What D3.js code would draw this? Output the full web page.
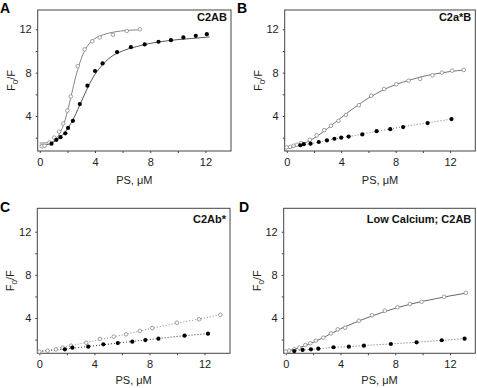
<!DOCTYPE html>
<html>
<head>
<meta charset="utf-8">
<script src="https://cdn.jsdelivr.net/npm/d3@7"></script>
<style>
body { margin: 0; background: #fff; }
text { font-family: "Liberation Sans", Arial, sans-serif; }
</style>
</head>
<body>
<svg id="chart" width="477" height="388"></svg>
<script>
"use strict"

// tick values
var xTicks = [0, 2, 4, 6, 8, 10, 12];
var yTicks = [2, 4, 6, 8, 10, 12];

// panel A : C2AB
var aOpenX = [0.15, 0.35, 0.7, 1.05, 1.4, 1.7, 2.0, 2.25, 2.75, 3.25, 3.8, 4.35, 5.3, 6.3, 7.25];
var aOpenY = [1.2, 1.25, 1.55, 2.0, 2.55, 3.3, 4.5, 5.8, 8.6, 10.15, 10.9, 11.25, 11.5, 11.85, 12.0];
var aFillX = [0.85, 1.2, 1.5, 1.85, 2.05, 2.4, 2.9, 3.45, 4.0, 4.55, 5.6, 6.6, 7.6, 8.6, 9.5, 10.4, 11.3, 12.1];
var aFillY = [1.45, 1.8, 2.05, 2.4, 2.9, 3.55, 5.1, 6.8, 8.15, 8.85, 9.9, 10.35, 10.6, 10.85, 11.0, 11.25, 11.4, 11.55];
var aOpenFitX = [0, 0.7, 1.1, 1.4, 1.7, 2.0, 2.3, 2.6, 2.9, 3.2, 3.6, 4.0, 4.6, 5.4, 6.3, 7.25];
var aOpenFitY = [1.5, 1.55, 1.8, 2.3, 3.1, 4.4, 6.0, 7.6, 8.9, 9.9, 10.7, 11.15, 11.5, 11.75, 11.9, 11.95];
var aFillFitX = [0, 0.5, 1.0, 1.5, 2.0, 2.5, 3.0, 3.5, 4.0, 4.5, 5.0, 6.0, 7.0, 8.0, 9.0, 10.0, 11.0, 12.3];
var aFillFitY = [1.3, 1.35, 1.6, 2.05, 2.8, 3.9, 5.3, 6.7, 7.85, 8.65, 9.3, 10.0, 10.4, 10.7, 10.9, 11.05, 11.15, 11.3];

// panel B : C2a*B
var bOpenX = [0, 0.25, 0.5, 0.75, 1.05, 1.7, 2.2, 2.75, 3.25, 3.8, 4.35, 5.3, 6.2, 7.15, 8.05, 8.95, 9.8, 10.7, 11.4, 12.15, 13.0];
var bOpenY = [1.1, 1.15, 1.25, 1.35, 1.5, 1.8, 2.2, 2.7, 3.1, 3.55, 4.1, 5.0, 5.87, 6.5, 6.92, 7.26, 7.42, 7.76, 8.0, 8.18, 8.25];
var bFillX = [1.0, 1.25, 1.75, 2.35, 2.95, 3.5, 4.0, 4.55, 5.55, 6.6, 7.6, 8.55, 10.35, 12.1];
var bFillY = [1.3, 1.4, 1.45, 1.6, 1.75, 1.9, 2.0, 2.1, 2.3, 2.6, 2.78, 2.98, 3.35, 3.72];
var bOpenFitX = [0, 1, 2, 3, 4, 5, 6, 7, 8, 9, 10, 11, 12, 13.1];
var bOpenFitY = [1.05, 1.35, 1.95, 2.85, 3.85, 4.8, 5.65, 6.35, 6.9, 7.3, 7.65, 7.9, 8.1, 8.25];
var bFillFitX = [0, 1.0, 2.0, 3.0, 4.0, 5.0, 6.0, 7.0, 8.0, 9.0, 10.0, 11.0, 12.1];
var bFillFitY = [1.1, 1.3, 1.5, 1.75, 2.0, 2.2, 2.45, 2.68, 2.9, 3.1, 3.3, 3.5, 3.72];

// panel C : C2Ab*
var cOpenX = [0, 0.6, 1.2, 1.7, 2.3, 3.4, 4.4, 5.4, 6.3, 7.3, 8.2, 10.0, 11.6, 13.15];
var cOpenY = [0.88, 0.97, 1.1, 1.25, 1.44, 1.71, 2.06, 2.27, 2.49, 2.8, 3.07, 3.56, 3.88, 4.3];
var cFillX = [1.85, 2.4, 3.55, 4.65, 5.7, 6.75, 7.7, 8.65, 10.55, 12.25];
var cFillY = [1.1, 1.25, 1.34, 1.56, 1.68, 1.81, 1.96, 2.09, 2.36, 2.55];
var cOpenFitX = [0, 2.3, 4.4, 6.3, 8.2, 10.0, 11.6, 13.15];
var cOpenFitY = [0.88, 1.44, 2.0, 2.5, 3.05, 3.52, 3.9, 4.3];
var cFillFitX = [0, 1.85, 3.55, 5.7, 7.7, 10.55, 12.25];
var cFillFitY = [0.9, 1.12, 1.36, 1.68, 1.96, 2.36, 2.55];

// panel D : Low Calcium; C2AB
var dOpenX = [0, 0.25, 0.62, 0.98, 1.43, 1.79, 2.2, 2.75, 3.31, 3.8, 4.34, 5.35, 6.3, 7.24, 8.16, 9.07, 9.93, 11.57, 13.16];
var dOpenY = [0.88, 0.97, 1.1, 1.25, 1.5, 1.66, 1.9, 2.18, 2.58, 2.95, 3.1, 3.75, 4.25, 4.68, 4.99, 5.3, 5.51, 5.97, 6.34];
var dFillX = [0.62, 1.23, 1.84, 2.38, 3.49, 4.61, 5.71, 7.68, 9.56, 11.4, 13.07];
var dFillY = [0.94, 1.04, 1.1, 1.16, 1.29, 1.34, 1.44, 1.59, 1.75, 1.94, 2.09];
var dOpenFitX = [0, 1, 2, 3, 4, 5, 6, 7, 8, 9, 10, 11, 12, 13.15];
var dOpenFitY = [0.9, 1.25, 1.75, 2.35, 3.0, 3.55, 4.05, 4.5, 4.9, 5.25, 5.55, 5.8, 6.05, 6.3];
var dFillFitX = [0.3, 1.23, 2.38, 3.49, 4.61, 5.71, 7.68, 9.56, 11.4, 13.07];
var dFillFitY = [0.9, 1.02, 1.15, 1.27, 1.35, 1.45, 1.6, 1.76, 1.93, 2.09];

var svg = d3.select("#chart");

function pairs(xs, ys) {
	return xs.map(function(x, i) { return [x, ys[i]]; });
}

//
// one panel
//
function drawPanel(p) {
	var x = d3.scaleLinear().domain([-0.15, 13.85]).range([p.left, p.right]);
	var y = d3.scaleLinear().domain(p.yDomain).range([p.bottom, p.top]);
	var g = svg.append("g");

	var xAxis = d3.axisBottom(x).tickValues(xTicks).tickSize(2).tickPadding(5)
		.tickFormat(function(d) { return d % 4 == 0 ? d : ""; });
	var yAxis = d3.axisLeft(y).tickValues(yTicks).tickSize(2).tickPadding(4)
		.tickFormat(function(d) { return d % 4 == 0 ? d : ""; });

	g.append("g").attr("transform", "translate(0," + p.bottom + ")").call(xAxis);
	g.append("g").attr("transform", "translate(" + p.left + ",0)").call(yAxis);
	g.selectAll(".domain").remove();
	g.selectAll(".tick line").attr("stroke", "#444");
	g.selectAll(".tick text").attr("fill", "#222").style("font-size", "11px");

	// frame
	g.append("rect")
		.attr("x", p.left).attr("y", p.top)
		.attr("width", p.right - p.left).attr("height", p.bottom - p.top)
		.attr("fill", "none").attr("stroke", "#444").attr("stroke-width", 1);

	var line = d3.line()
		.x(function(d) { return x(d[0]); })
		.y(function(d) { return y(d[1]); })
		.curve(d3.curveMonotoneX);

	p.lines.forEach(function(l) {
		g.append("path")
			.attr("d", line(pairs(l.xs, l.ys)))
			.attr("fill", "none")
			.attr("stroke", l.color)
			.attr("stroke-width", l.dash ? 1 : 0.9)
			.attr("stroke-dasharray", l.dash ? "1,2" : null);
	});

	// open circles
	g.append("g").selectAll("circle")
		.data(pairs(p.openX, p.openY))
		.join("circle")
		.attr("cx", function(d) { return x(d[0]); })
		.attr("cy", function(d) { return y(d[1]); })
		.attr("r", 1.8)
		.attr("fill", "#fff")
		.attr("stroke", "#888")
		.attr("stroke-width", 0.8);
	// filled circles
	g.append("g").selectAll("circle")
		.data(pairs(p.fillX, p.fillY))
		.join("circle")
		.attr("cx", function(d) { return x(d[0]); })
		.attr("cy", function(d) { return y(d[1]); })
		.attr("r", 2.1)
		.attr("fill", "#000");

	// title
	g.append("text")
		.attr("x", p.right - 4).attr("y", p.titleY)
		.attr("text-anchor", "end")
		.style("font-size", "11px").style("font-weight", "bold")
		.attr("fill", "#111")
		.text(p.title);

	// panel letter
	g.append("text")
		.attr("x", p.letterX).attr("y", p.letterY)
		.style("font-size", "14px").style("font-weight", "bold")
		.attr("fill", "#000")
		.text(p.letter);

	// axis labels
	g.append("text")
		.attr("x", (p.left + p.right) / 2).attr("y", p.bottom + p.xLabelDy)
		.attr("text-anchor", "middle")
		.style("font-size", "11px").attr("fill", "#222")
		.text("PS, \u03bcM");
	var yl = g.append("text")
		.attr("transform", "translate(" + (p.left - 23) + "," + ((p.top + p.bottom) / 2) + ") rotate(-90)")
		.attr("text-anchor", "middle")
		.style("font-size", "11px").attr("fill", "#222");
	yl.append("tspan").text("F");
	yl.append("tspan").text("0").style("font-size", "8px").attr("dy", 3);
	yl.append("tspan").text("/F").attr("dy", -3);
}

var panels = [
	{ letter: "A", title: "C2AB", left: 37.7, right: 231, top: 10, bottom: 151, yDomain: [0.77, 13.78],
	  letterX: 0, letterY: 13, titleY: 21, xLabelDy: 33,
	  openX: aOpenX, openY: aOpenY, fillX: aFillX, fillY: aFillY,
	  lines: [ { xs: aOpenFitX, ys: aOpenFitY, color: "#777", dash: false },
	           { xs: aFillFitX, ys: aFillFitY, color: "#444", dash: false } ] },
	{ letter: "B", title: "C2a*B", left: 284.7, right: 475.3, top: 10, bottom: 151, yDomain: [0.77, 13.78],
	  letterX: 237, letterY: 13, titleY: 21, xLabelDy: 33,
	  openX: bOpenX, openY: bOpenY, fillX: bFillX, fillY: bFillY,
	  lines: [ { xs: bOpenFitX, ys: bOpenFitY, color: "#666", dash: false },
	           { xs: bFillFitX, ys: bFillFitY, color: "#777", dash: true } ] },
	{ letter: "C", title: "C2Ab*", left: 37.3, right: 230, top: 208.3, bottom: 353.3, yDomain: [0.73, 14.17],
	  letterX: 0, letterY: 212, titleY: 223, xLabelDy: 31,
	  openX: cOpenX, openY: cOpenY, fillX: cFillX, fillY: cFillY,
	  lines: [ { xs: cOpenFitX, ys: cOpenFitY, color: "#888", dash: true },
	           { xs: cFillFitX, ys: cFillFitY, color: "#333", dash: true } ] },
	{ letter: "D", title: "Low Calcium; C2AB", left: 283.7, right: 475.3, top: 208.3, bottom: 353.3, yDomain: [0.73, 14.17],
	  letterX: 239, letterY: 212, titleY: 223, xLabelDy: 31,
	  openX: dOpenX, openY: dOpenY, fillX: dFillX, fillY: dFillY,
	  lines: [ { xs: dOpenFitX, ys: dOpenFitY, color: "#555", dash: false },
	           { xs: dFillFitX, ys: dFillFitY, color: "#666", dash: true } ] }
];

panels.forEach(drawPanel);
</script>
</body>
</html>
